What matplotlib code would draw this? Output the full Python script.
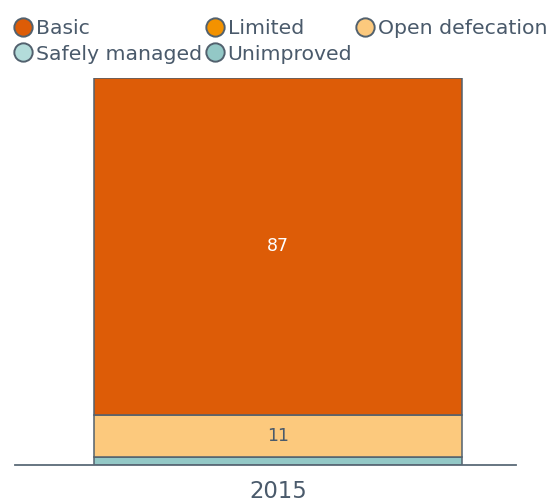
import matplotlib
matplotlib.use("Agg")
from matplotlib import pyplot as plt
from matplotlib.lines import Line2D

# data
year = "2015"
categories = ["Basic", "Limited", "Open defecation", "Safely managed", "Unimproved"]
values = {"Unimproved": 2, "Open defecation": 11, "Basic": 87, "Limited": 0, "Safely managed": 0}
stack_order = ["Unimproved", "Open defecation", "Basic"]

colors = {
    "Basic": "#dd5c07",
    "Limited": "#f39200",
    "Open defecation": "#fcc97d",
    "Safely managed": "#b3dcda",
    "Unimproved": "#93c8c6",
}
label_colors = {"Basic": "white", "Open defecation": "#4a5a6b"}
edge = "#52616e"
text_c = "#4a5a6b"

fig = plt.figure(figsize=(5.48, 5.03), dpi=100)
ax = fig.add_axes([15 / 548, 1 - 465 / 503, 501 / 548, 387 / 503])

bottom = 0
for name in stack_order:
    v = values[name]
    ax.bar(0, v, bottom=bottom, width=1, color=colors[name], edgecolor=edge, linewidth=1.1)
    if v >= 5:
        ax.text(0, bottom + v / 2, str(v), ha="center", va="center",
                fontsize=12.5, color=label_colors.get(name, text_c))
    bottom += v

ax.set_xlim(-0.7147, 0.6467)
ax.set_ylim(0, 100)
for s in ["top", "right", "left"]:
    ax.spines[s].set_visible(False)
ax.spines["bottom"].set_color("#5b6a77")
ax.spines["bottom"].set_linewidth(1.3)
ax.set_yticks([])
ax.set_xticks([0])
ax.set_xticklabels([year], fontsize=16.4, color=text_c)
ax.tick_params(axis="x", length=0, pad=11)

# legend, row-wise order
leg_order = ["Basic", "Safely managed", "Limited", "Unimproved", "Open defecation"]
handles = [Line2D([], [], linestyle="none", marker="o", markersize=13.2,
                  markerfacecolor=colors[n], markeredgecolor=edge, markeredgewidth=1.4)
           for n in leg_order]
leg = fig.legend(handles, leg_order, loc="upper left", bbox_to_anchor=(13 / 548, 1 - 19 / 503),
                 ncol=3, frameon=False, fontsize=14.7, borderpad=0, borderaxespad=0,
                 handlelength=0.95, handletextpad=0.17, columnspacing=0.14, labelspacing=0.32)
for t in leg.get_texts():
    t.set_color(text_c)

fig.savefig("out.png", dpi=100)
